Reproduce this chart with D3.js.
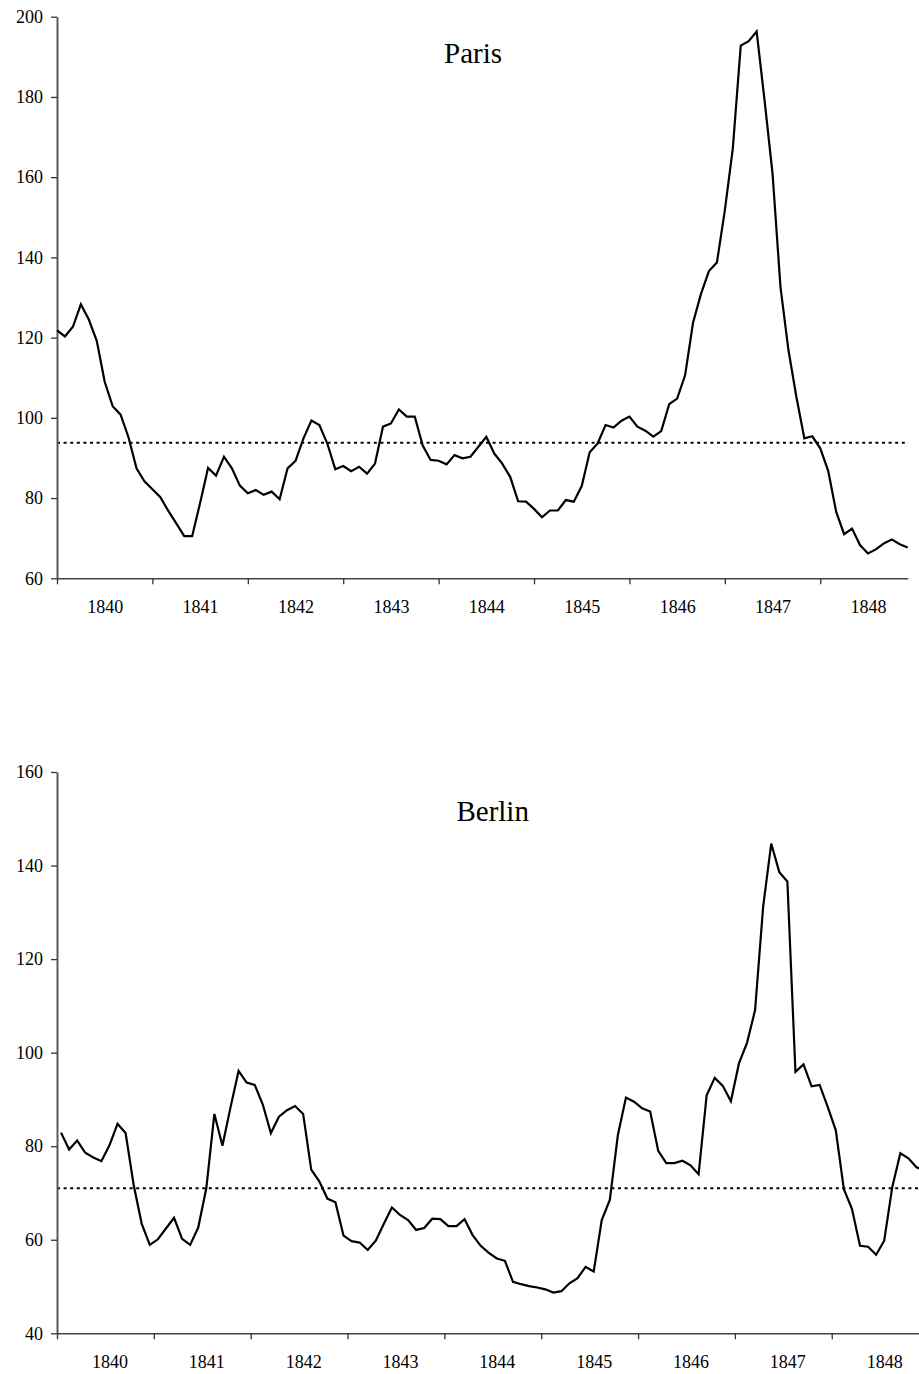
<!DOCTYPE html>
<html>
<head>
<meta charset="utf-8">
<script src="https://cdn.jsdelivr.net/npm/d3@7"></script>
<style>
    body { margin: 0; background: #fff; }
</style>
</head>
<body>
<svg id="drawing_region"></svg>
<script>
const years = [1840, 1841, 1842, 1843, 1844, 1845, 1846, 1847, 1848];

// monthly values, Jan 1840 .. Dec 1848
const parisValues = [
    121.8, 120.3, 122.7, 128.3, 124.5, 119.2, 109.0, 102.9, 100.8, 95.1, 87.4, 84.2,
    82.2, 80.2, 76.8, 73.7, 70.5, 70.5, 78.8, 87.5, 85.6, 90.3, 87.4, 83.1,
    81.2, 82.0, 80.8, 81.6, 79.7, 87.4, 89.3, 94.9, 99.3, 98.2, 93.6, 87.2,
    88.0, 86.7, 87.8, 86.1, 88.6, 97.8, 98.6, 102.1, 100.3, 100.3, 93.1, 89.5,
    89.3, 88.4, 90.7, 89.9, 90.3, 92.8, 95.3, 91.1, 88.6, 85.3, 79.2, 79.1,
    77.3, 75.2, 76.9, 76.9, 79.5, 79.1, 83.0, 91.4, 93.6, 98.2, 97.6, 99.3,
    100.3, 97.8, 96.8, 95.3, 96.7, 103.4, 104.8, 110.6, 123.7, 130.9, 136.6, 138.7,
    151.7, 167.1, 192.8, 193.9, 196.3, 179.1, 160.9, 132.6, 116.9, 105.2, 94.9, 95.4,
    92.4, 86.8, 76.6, 71.0, 72.4, 68.3, 66.2, 67.2, 68.7, 69.7, 68.5, 67.7
];

const berlinValues = [
    82.9, 79.3, 81.2, 78.6, 77.6, 76.8, 80.2, 84.8, 82.8, 71.7, 63.4, 58.9,
    60.1, 62.4, 64.7, 60.2, 58.9, 62.6, 71.0, 86.9, 80.1, 88.3, 96.1, 93.6,
    93.1, 88.9, 82.8, 86.3, 87.7, 88.6, 86.9, 75.0, 72.5, 68.8, 68.0, 60.9,
    59.7, 59.4, 57.8, 59.8, 63.4, 66.9, 65.3, 64.2, 62.1, 62.5, 64.5, 64.4,
    62.9, 62.9, 64.4, 61.0, 58.7, 57.2, 56.0, 55.5, 51.0, 50.5, 50.1, 49.8,
    49.4, 48.7, 49.0, 50.7, 51.8, 54.2, 53.2, 64.2, 68.5, 82.4, 90.4, 89.5,
    88.1, 87.4, 79.0, 76.4, 76.4, 76.9, 75.9, 74.0, 90.9, 94.6, 92.9, 89.6,
    97.7, 102.1, 109.1, 131.2, 144.7, 138.6, 136.6, 95.9, 97.5, 92.8, 93.1, 88.4,
    83.4, 70.8, 66.6, 58.7, 58.5, 56.8, 59.8, 71.3, 78.5, 77.4, 75.5, 74.8
];

const parisMean = 93.8;
const berlinMean = 71.0;

const parisTicks = [60, 80, 100, 120, 140, 160, 180, 200];
const berlinTicks = [40, 60, 80, 100, 120, 140, 160];

const serif = "'Liberation Serif', 'Times New Roman', serif";

class PriceChart {

    constructor(config, values, mean) {
        this.config = config;
        this.values = values;
        this.mean = mean;
        this.init();
    }

    init() {
        const self = this;
        const c = self.config;

        self.chart = d3.select(c.parent).append('g');

        self.xscale = d3.scaleLinear()
            .domain(c.xdomain)
            .range([c.left, c.right]);

        self.yscale = d3.scaleLinear()
            .domain([c.yticks[0], c.yticks[c.yticks.length - 1]])
            .range([c.bottom, c.top]);
    }

    render() {
        const self = this;
        const c = self.config;

        // mean line
        self.chart.append('line')
            .attr('x1', self.xscale.range()[0])
            .attr('x2', self.xscale.range()[1])
            .attr('y1', self.yscale(self.mean))
            .attr('y2', self.yscale(self.mean))
            .attr('stroke', '#000')
            .attr('stroke-width', 2)
            .attr('stroke-dasharray', '3,3.6');

        // y axis
        const yaxis = d3.axisLeft(self.yscale)
            .tickValues(c.yticks)
            .tickSize(6)
            .tickSizeOuter(0)
            .tickPadding(8);

        const yg = self.chart.append('g')
            .attr('transform', `translate(${c.left}, 0)`)
            .call(yaxis);
        yg.select('.domain').attr('stroke', '#5a5a5a').attr('stroke-width', 2);
        yg.selectAll('.tick line').attr('stroke', '#333').attr('stroke-width', 1.3);
        yg.selectAll('text')
            .style('font-family', serif)
            .style('font-size', '18px')
            .style('fill', '#000');

        // x axis: year boundaries
        const xaxis = d3.axisBottom(self.xscale)
            .tickValues(years.map((y, i) => i * 12 + c.tickShift))
            .tickSize(6)
            .tickSizeOuter(0)
            .tickFormat('');

        const xg = self.chart.append('g')
            .attr('transform', `translate(0, ${c.bottom})`)
            .call(xaxis);
        xg.select('.domain').attr('stroke', '#444').attr('stroke-width', 1.6);
        xg.selectAll('.tick line').attr('stroke', '#333').attr('stroke-width', 1.3);

        // year labels centred in each year
        const labels = d3.axisBottom(self.xscale)
            .tickValues(years.map((y, i) => i * 12 + 6))
            .tickSize(0)
            .tickPadding(22)
            .tickFormat((d, i) => years[i]);

        const lg = self.chart.append('g')
            .attr('transform', `translate(0, ${c.bottom})`)
            .call(labels);
        lg.select('.domain').remove();
        lg.selectAll('text')
            .style('font-family', serif)
            .style('font-size', '18px')
            .style('fill', '#000');

        // series
        const line = d3.line()
            .x((d, i) => self.xscale(i))
            .y(d => self.yscale(d));

        self.chart.append('path')
            .datum(self.values)
            .attr('fill', 'none')
            .attr('stroke', '#000')
            .attr('stroke-width', 2.2)
            .attr('d', line);

        // title
        self.chart.append('text')
            .attr('x', c.titleX)
            .attr('y', c.titleY)
            .attr('text-anchor', 'middle')
            .style('font-family', serif)
            .style('font-size', '29px')
            .text(c.title);
    }
}

d3.select('#drawing_region')
    .attr('width', 919)
    .attr('height', 1374);

const paris = new PriceChart({
    parent: '#drawing_region',
    title: 'Paris',
    titleX: 473, titleY: 63,
    left: 57, right: 907.7,
    xdomain: [0, 107],
    tickShift: 0,
    top: 16.7, bottom: 578.3,
    yticks: parisTicks
}, parisValues, parisMean);
paris.render();

const berlin = new PriceChart({
    parent: '#drawing_region',
    title: 'Berlin',
    titleX: 492.7, titleY: 821,
    left: 57, right: 928.6,
    xdomain: [-0.5, 107.5],
    tickShift: -0.5,
    top: 772, bottom: 1333.3,
    yticks: berlinTicks
}, berlinValues, berlinMean);
berlin.render();
</script>
</body>
</html>
